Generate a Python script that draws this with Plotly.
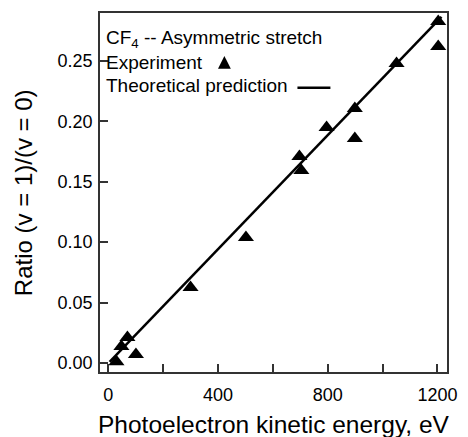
import plotly.graph_objects as go

# Experimental data: photoelectron kinetic energy (eV) vs ratio (v=1)/(v=0)
exp_energy = [30, 48, 70, 101, 300, 502, 697, 704, 796, 899, 899, 1051, 1203, 1203]
exp_ratio = [0.001, 0.0136, 0.021, 0.007, 0.0624, 0.1038, 0.1709, 0.1593,
             0.1949, 0.2106, 0.1858, 0.2478, 0.2826, 0.2619]

# Theoretical prediction line
theory_energy = [5, 1215]
theory_ratio = [0.0009, 0.2865]

x_tickvals = [0, 400, 800, 1200]
x_ticktext = ["0", "400", "800", "1200"]
y_tickvals = [0.00, 0.05, 0.10, 0.15, 0.20, 0.25]
y_ticktext = ["0.00", "0.05", "0.10", "0.15", "0.20", "0.25"]

FONT = "Arial, Liberation Sans, sans-serif"

fig = go.Figure()
fig.add_trace(go.Scatter(x=theory_energy, y=theory_ratio, mode="lines",
                         line=dict(color="black", width=2.5), showlegend=False))
fig.add_trace(go.Scatter(x=exp_energy, y=exp_ratio, mode="markers",
                         marker=dict(symbol="triangle-up", size=14, color="black"),
                         showlegend=False))

fig.update_layout(
    width=468, height=437,
    margin=dict(l=100, r=11, t=13, b=65),
    plot_bgcolor="white", paper_bgcolor="white",
    font=dict(family=FONT, color="black", size=18),
    xaxis=dict(range=[-30, 1235], tickvals=x_tickvals, ticktext=x_ticktext,
               ticks="inside", ticklen=8, tickwidth=1.5, tickcolor="#333",
               minor=dict(dtick=200, tick0=0, ticks="inside", ticklen=8, tickwidth=1.5, tickcolor="#333"),
               showline=True, linecolor="#333", linewidth=1.5, mirror=True,
               showgrid=False, zeroline=False, tickfont=dict(size=18), ticklabelstandoff=6),
    yaxis=dict(range=[-0.0075, 0.2897], tickvals=y_tickvals, ticktext=y_ticktext,
               ticks="inside", ticklen=8, tickwidth=1.5, tickcolor="#333",
               showline=True, linecolor="#333", linewidth=1.5, mirror=True,
               showgrid=False, zeroline=False, tickfont=dict(size=18), ticklabelstandoff=2),
)

# Axis titles
fig.add_annotation(xref="paper", yref="paper", x=0.501, y=-0.146, xanchor="center", yanchor="middle",
                   text="Photoelectron kinetic energy, eV", showarrow=False, font=dict(size=24.5))
fig.add_annotation(xref="paper", yref="paper", x=-0.22, y=0.5, xanchor="center", yanchor="middle",
                   text="Ratio (v = 1)/(v = 0)", textangle=-90, showarrow=False, font=dict(size=24))

# Text legend
fig.add_annotation(xref="paper", yref="paper", x=0.012, y=0.9276, xanchor="left", yanchor="middle",
                   text="CF<sub>4</sub> -- Asymmetric stretch", showarrow=False, font=dict(size=19))
fig.add_annotation(xref="paper", yref="paper", x=0.012, y=0.8635, xanchor="left", yanchor="middle",
                   text="Experiment", showarrow=False, font=dict(size=19))
fig.add_annotation(xref="paper", yref="paper", x=0.012, y=0.7994, xanchor="left", yanchor="middle",
                   text="Theoretical prediction", showarrow=False, font=dict(size=19))
fig.add_shape(type="path", xref="paper", yref="paper",
              path="M 0.340,0.845 L 0.377,0.845 L 0.3585,0.880 Z",
              fillcolor="black", line=dict(width=0))
fig.add_shape(type="line", xref="paper", yref="paper", x0=0.569, x1=0.664, y0=0.792, y1=0.792,
              line=dict(color="black", width=2.5))

fig.write_html("out.html")
